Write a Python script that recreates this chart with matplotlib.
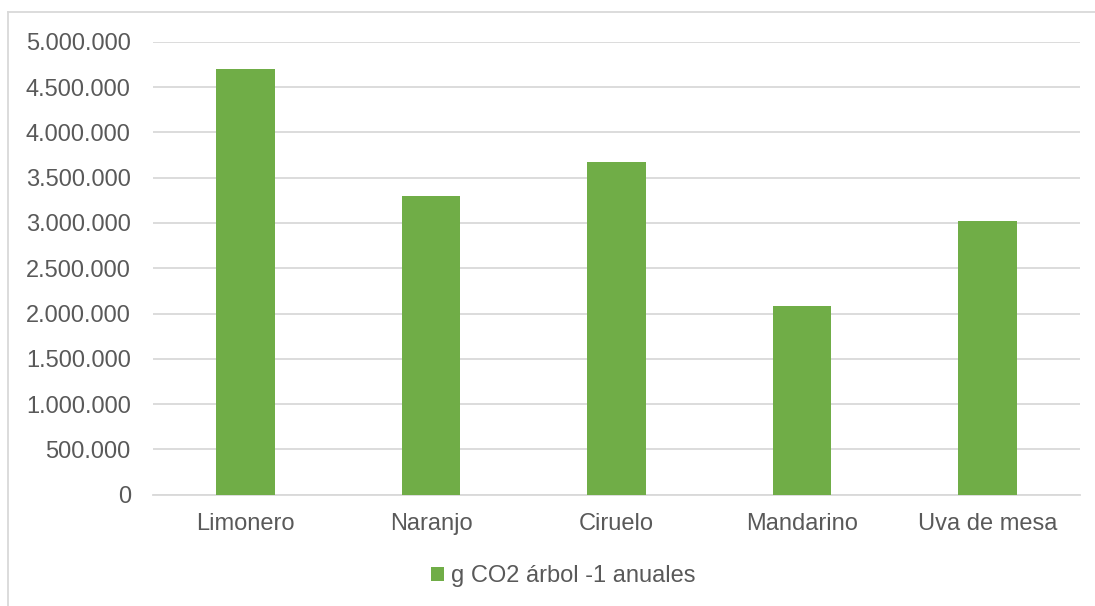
import matplotlib
matplotlib.use("Agg")
import matplotlib.pyplot as plt
from matplotlib.lines import Line2D
from matplotlib.ticker import FuncFormatter, MultipleLocator

plt.rcParams["font.family"] = ["Liberation Sans", "DejaVu Sans"]

categories = ["Limonero", "Naranjo", "Ciruelo", "Mandarino", "Uva de mesa"]
co2_values = [4700000, 3300000, 3670000, 2080000, 3025000]
series_label = "g CO2 árbol -1 anuales"

BAR_COLOR = "#70AD47"
TEXT_COLOR = "#595959"
GRID_COLOR = "#D9D9D9"
FONT_SIZE = 17


def thousands_dot(v, _pos):
    return f"{v:,.0f}".replace(",", ".")


fig = plt.figure(figsize=(10.95, 6.06), dpi=100)
ax = fig.add_axes([153 / 1095, 111.3 / 606, 927 / 1095, 453 / 606])

x = range(len(categories))
ax.bar(x, co2_values, width=0.317, color=BAR_COLOR, zorder=3, label=series_label)

ax.set_xlim(-0.5, len(categories) - 0.5)
ax.set_ylim(0, 5000000)
ax.yaxis.set_major_locator(MultipleLocator(500000))
ax.yaxis.set_major_formatter(FuncFormatter(thousands_dot))
ax.set_xticks(list(x))
ax.set_xticklabels(categories)

ax.grid(axis="y", color=GRID_COLOR, linewidth=1.3, zorder=0)
for side in ["left", "right", "top"]:
    ax.spines[side].set_visible(False)
ax.spines["bottom"].set_color(GRID_COLOR)
ax.spines["bottom"].set_linewidth(1.3)

ax.tick_params(axis="y", length=0, pad=16, labelsize=FONT_SIZE, labelcolor=TEXT_COLOR)
ax.tick_params(axis="x", length=0, pad=13.5, labelsize=FONT_SIZE, labelcolor=TEXT_COLOR)

leg = ax.legend(
    loc="center",
    bbox_to_anchor=(563 / 1095, 1 - 576 / 606),
    bbox_transform=fig.transFigure,
    frameon=False,
    fontsize=FONT_SIZE,
    handlelength=0.55,
    handleheight=0.55,
    handletextpad=0.3,
)
for t in leg.get_texts():
    t.set_color(TEXT_COLOR)

# chart area border (left and top edges visible)
fx, fy = 7.5 / 1095, 1 - 12.3 / 606
fig.add_artist(Line2D([fx, fx], [0, fy], transform=fig.transFigure, color=GRID_COLOR, linewidth=1.3))
fig.add_artist(Line2D([fx, 1], [fy, fy], transform=fig.transFigure, color=GRID_COLOR, linewidth=1.3))

fig.savefig("out.png", dpi=100)
